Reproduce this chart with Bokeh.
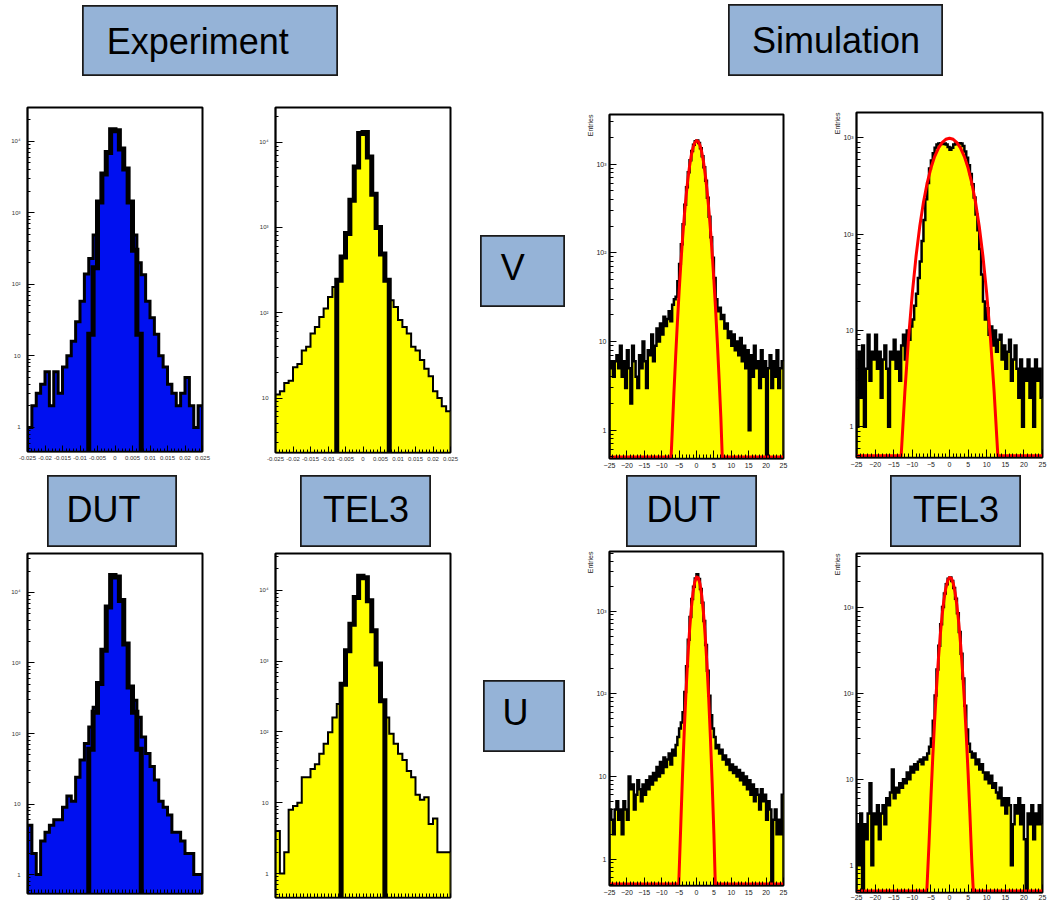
import numpy as np
from bokeh.plotting import figure
from bokeh.layouts import row, column
from bokeh.models import Range1d, FixedTicker, Title, Spacer
from bokeh.core.properties import value
from bokeh.embed import file_html
from bokeh.resources import INLINE

FONT = "Liberation Sans"
BOX_COLOR = "#95B3D7"
BLUE = "#0010f0"
YELLOW = "#ffff00"
RED = "#ff0000"

# ---------------- label texts ----------------
header_labels = ["Experiment", "Simulation"]
plane_labels = ["V", "U"]
detector_labels = ["DUT", "TEL3"]
y_title = "Entries"

# ---------------- experiment histograms (residuals) ----------------
exp_x_range = (-0.025, 0.025)
exp_bin_width = 0.00125
exp_xticks = [-0.025, -0.02, -0.015, -0.01, -0.005, 0, 0.005, 0.01, 0.015, 0.02, 0.025]
exp_xtick_labels = ["-0.025", "-0.02", "-0.015", "-0.01", "-0.005", "0",
                    "0.005", "0.01", "0.015", "0.02", "0.025"]

exp_v_dut_counts = [1, 2, 3, 4, 6, 2, 6, 3, 7, 10, 16, 30, 58, 140, 230, 490, 1420, 3500, 7000, 14500,
                    14000, 7800, 4100, 1420, 490, 200, 136, 58, 34, 20, 10, 7, 4, 3, 2, 3, 5, 2, 1, 2]
exp_v_dut_core_first_bin = 14
exp_v_dut_core_counts = [20, 170, 1420, 3500, 7000, 14500, 14000, 7800, 4100, 1420, 300, 20]

exp_v_tel3_counts = [11, 12, 15, 16, 23, 25, 36, 40, 57, 68, 89, 112, 153, 200, 240, 450, 850, 2080, 5100, 12600,
                     13000, 6700, 2450, 1000, 490, 240, 140, 117, 82, 68, 57, 40, 36, 28, 22, 18, 12, 10, 8, 7]
exp_v_tel3_core_first_bin = 14
exp_v_tel3_core_counts = [240, 450, 850, 2080, 5100, 12600, 13000, 6700, 2450, 1000, 490, 240]

exp_u_dut_counts = [5, 2, 1, 3, 4, 5, 6, 6, 9, 13, 11, 24, 42, 72, 124, 236, 510, 1510, 6200, 17400,
                    16500, 7700, 1860, 455, 295, 170, 89, 52, 34, 22, 11, 9, 7, 4, 4, 3, 2, 2, 1, 1]
exp_u_dut_core_first_bin = 14
exp_u_dut_core_counts = [60, 200, 510, 1510, 6200, 17400, 16500, 7700, 1860, 455, 200, 60]

exp_u_tel3_counts = [4, 1, 2, 8, 9, 10, 23, 23, 30, 35, 49, 68, 99, 160, 248, 470, 1400, 3300, 7900, 15800,
                     15000, 7100, 2680, 910, 275, 160, 94, 68, 49, 40, 28, 23, 13, 11, 12, 5, 6, 2, 2, 2]
exp_u_tel3_core_first_bin = 15
exp_u_tel3_core_counts = [470, 1400, 3300, 7900, 15800, 15000, 7100, 2680, 910, 275]

# ---------------- simulation histograms ----------------
sim_x_range = (-25, 25)
sim_bin_width = 0.5
sim_xticks = [-25, -20, -15, -10, -5, 0, 5, 10, 15, 20, 25]

sim_v_dut_counts = [5, 6, 4, 6, 7, 5, 9, 4, 6, 3,
                    8, 5, 2, 9, 6, 4, 3, 7, 5, 10,
                    6, 3, 8, 7, 12, 6, 9, 14, 10, 16,
                    12, 19, 15, 18, 22, 17, 26, 30, 32, 48,
                    75, 125, 210, 350, 550, 810, 1110, 1410, 1660, 1820,
                    1850, 1740, 1520, 1230, 925, 650, 420, 255, 150, 88,
                    52, 30, 22, 24, 18, 20, 14, 16, 11, 13,
                    9, 12, 8, 10, 7, 11, 6, 9, 5, 8,
                    1, 7, 4, 9, 5, 6, 3, 8, 4, 6,
                    0, 5, 7, 3, 6, 4, 8, 3, 5, 6]
sim_v_dut_fit_x = [-25, -7.3, -7, -6.5, -6, -5.5, -5, -4.5, -4, -3.5, -3, -2.5, -2, -1.5, -1, -0.5, 0,
                   0.5, 1, 1.5, 2, 2.5, 3, 3.5, 4, 4.5, 5, 5.5, 6, 6.5, 7, 7.4, 25]
sim_v_dut_fit_y = [0.5, 0.5, 0.91, 2.57, 6.7, 16.2, 36.4, 75.7, 146, 261, 433, 666, 950, 1257, 1541, 1752, 1847,
                   1806, 1637, 1376, 1072, 775, 519, 323, 186, 99.3, 49.2, 22.6, 9.6, 3.8, 1.39, 0.5, 0.5]

sim_v_tel3_counts = [1, 6, 2, 7, 1, 4, 9, 3, 6, 5,
                     9, 4, 6, 2, 5, 7, 4, 1, 6, 5,
                     8, 4, 6, 3, 7, 9, 5, 10, 8, 11,
                     13, 18, 24, 35, 52, 85, 140, 230, 340, 480,
                     580, 690, 790, 850, 870, 880, 860, 870, 850, 800,
                     750, 790, 850, 870, 860, 880, 870, 820, 720, 620,
                     520, 420, 330, 240, 160, 110, 70, 38, 20, 13,
                     17, 9, 11, 7, 10, 6, 8, 9, 5, 7,
                     4, 6, 8, 3, 5, 7, 4, 2, 5, 1,
                     4, 3, 5, 2, 4, 1, 5, 3, 4, 2]
sim_v_tel3_fit_x = [-25, -13, -12, -11, -10, -9, -8, -7, -6, -5, -4, -3, -2, -1, 0,
                    1, 2, 3, 4, 5, 6, 7, 8, 9, 10, 11, 12, 13, 25]
sim_v_tel3_fit_y = [0.5, 0.5, 2.3, 8.4, 24.3, 58.5, 120, 214, 339, 485, 637, 778, 892, 965, 990,
                    965, 892, 778, 637, 485, 339, 214, 120, 58.5, 24.3, 8.4, 2.3, 0.5, 0.5]

sim_u_dut_counts = [4, 3, 2, 4, 5, 3, 4, 2, 5, 4,
                    3, 10, 7, 8, 4, 6, 9, 7, 5, 8,
                    6, 9, 7, 10, 8, 11, 9, 13, 10, 15,
                    11, 17, 13, 16, 19, 14, 21, 18, 24, 30,
                    38, 45, 60, 105, 215, 450, 850, 1400, 1980, 2480,
                    2800, 2450, 1860, 1260, 760, 390, 190, 95, 55, 38,
                    30, 22, 24, 19, 21, 16, 18, 14, 16, 12,
                    14, 11, 13, 10, 12, 9, 11, 8, 10, 7,
                    9, 6, 8, 5, 7, 6, 4, 7, 5, 6,
                    3, 5, 4, 0, 3, 4, 2, 3, 2, 6]
sim_u_dut_fit_x = [-25, -5.1, -4.5, -4, -3.5, -3, -2.5, -2, -1.5, -1, -0.5, 0,
                   0.5, 1, 1.5, 2, 2.5, 3, 3.5, 4, 4.5, 5, 5.4, 25]
sim_u_dut_fit_y = [0.5, 0.5, 2.73, 10.9, 37.2, 109, 272, 582, 1067, 1675, 2250, 2588,
                   2548, 2147, 1549, 958, 506, 229, 88.8, 29.5, 8.4, 2.03, 0.5, 0.5]

sim_u_tel3_counts = [3, 1, 4, 0, 3, 2, 4, 9, 1, 4,
                     3, 5, 2, 4, 5, 3, 6, 5, 7, 13,
                     6, 8, 7, 9, 8, 10, 9, 12, 10, 14,
                     12, 15, 13, 16, 17, 15, 18, 17, 20, 24,
                     30, 48, 95, 190, 360, 640, 1020, 1460, 1880, 2180,
                     2250, 2050, 1700, 1270, 860, 520, 290, 150, 72, 38,
                     26, 21, 18, 20, 15, 17, 13, 15, 12, 10,
                     12, 9, 11, 8, 9, 7, 6, 8, 5, 6,
                     4, 6, 5, 1, 3, 5, 4, 6, 3, 5,
                     2, 0, 4, 3, 5, 2, 4, 3, 5, 3]
sim_u_tel3_fit_x = [-25, -6.1, -5.5, -5, -4.5, -4, -3.5, -3, -2.5, -2, -1.5, -1, -0.5, 0,
                    0.5, 1, 1.5, 2, 2.5, 3, 3.5, 4, 4.5, 5, 5.5, 6, 6.4, 25]
sim_u_tel3_fit_y = [0.5, 0.5, 1.81, 6.04, 18.1, 48.2, 115, 246, 471, 805, 1231, 1682, 2057, 2249,
                    2199, 1923, 1504, 1052, 658, 368, 184, 82.4, 33, 11.8, 3.8, 1.08, 0.5, 0.5]

log_tick_labels = {1: "1", 10: "10", 100: "10²", 1000: "10³", 10000: "10⁴"}


# ---------------- helpers ----------------
def outline(edges, counts, floor):
    c = np.maximum(np.asarray(counts, dtype=float), floor)
    xs = np.repeat(np.asarray(edges, dtype=float), 2)
    ys = np.concatenate([[floor], np.repeat(c, 2), [floor]])
    return xs, ys


def log_ticker(lo, hi, yr):
    majors = [10.0 ** k for k in range(lo, hi + 1)
              if 10.0 ** k in log_tick_labels and yr[0] <= 10.0 ** k <= yr[1]]
    minors = [m * 10.0 ** k for k in range(lo - 1, hi + 1) for m in range(2, 10)]
    return FixedTicker(ticks=majors, minor_ticks=minors)


def base_panel(w, h, borders, xr, yr):
    l, r, t, b = borders
    p = figure(width=w, height=h, x_range=Range1d(*xr), y_range=Range1d(*yr),
               y_axis_type="log", toolbar_location=None, output_backend="svg",
               min_border_left=l, min_border_right=r, min_border_top=t, min_border_bottom=b)
    p.grid.visible = False
    p.outline_line_color = "black"
    p.outline_line_width = 2
    p.background_fill_color = "white"
    p.border_fill_color = "white"
    for ax in (p.xaxis[0], p.yaxis[0]):
        ax.axis_line_color = "black"
        ax.axis_line_width = 1.5
        ax.major_tick_line_color = "black"
        ax.minor_tick_line_color = "black"
        ax.major_tick_out = 0
        ax.minor_tick_out = 0
        ax.major_label_text_font = FONT
        ax.major_label_text_font_style = "normal"
    p.yaxis[0].major_label_overrides = {float(k): v for k, v in log_tick_labels.items()}
    p.yaxis[0].ticker = log_ticker(0, 4, yr)
    return p


def exp_panel(w, h, borders, yr, counts, core_first, core_counts, fill, outer_lw, show_xlabels=True):
    p = base_panel(w, h, borders, exp_x_range, yr)
    xa, ya = p.xaxis[0], p.yaxis[0]
    minors = [i * 0.001 for i in range(-25, 26)]
    if show_xlabels:
        xa.ticker = FixedTicker(ticks=exp_xticks, minor_ticks=minors)
        xa.major_label_overrides = {float(t): s for t, s in zip(exp_xticks, exp_xtick_labels)}
        xa.major_label_text_font_size = "6px"
        xa.major_label_standoff = 4
        xa.major_label_text_color = "#333333"
        xa.major_tick_in, xa.minor_tick_in = 6, 3
    else:
        # the tick labels of the lower panels lie below the picture's edge
        xa.ticker = FixedTicker(ticks=[], minor_ticks=minors)
        xa.minor_tick_in = 4
    ya.major_tick_in, ya.minor_tick_in = 7, 3
    ya.major_label_text_font_size = "6px"
    ya.major_label_text_color = "#333333"
    ya.major_label_standoff = 7
    floor = yr[0]
    n = len(counts)
    edges = exp_x_range[0] + exp_bin_width * np.arange(n + 1)
    xs, ys = outline(edges, counts, floor)
    p.patch(xs, ys, fill_color=fill, line_color=None)
    p.line(xs, ys, line_color="black", line_width=outer_lw, line_join="miter")
    cedges = exp_x_range[0] + exp_bin_width * (core_first + np.arange(len(core_counts) + 1))
    cx, cy = outline(cedges, core_counts, floor)
    p.line(cx, cy, line_color="black", line_width=5, line_join="miter")
    return p


def sim_panel(w, h, borders, yr, counts, fit_x, fit_y, label_standoff=4):
    p = base_panel(w, h, borders, sim_x_range, yr)
    xa, ya = p.xaxis[0], p.yaxis[0]
    xa.ticker = FixedTicker(ticks=sim_xticks, minor_ticks=list(range(-25, 26)))
    xa.major_tick_in, xa.minor_tick_in = 8, 4
    ya.major_tick_in, ya.minor_tick_in = 7, 4
    xa.major_label_text_font_size = "7px"
    ya.major_label_text_font_size = "7px"
    xa.major_label_text_color = "#222222"
    ya.major_label_text_color = "#222222"
    xa.major_label_standoff = label_standoff
    ya.major_label_standoff = 3
    floor = yr[0]
    n = len(counts)
    edges = sim_x_range[0] + sim_bin_width * np.arange(n + 1)
    xs, ys = outline(edges, counts, floor)
    p.patch(xs, ys, fill_color=YELLOW, line_color=None)
    p.line(xs, ys, line_color="black", line_width=2.5, line_join="miter")
    p.line(fit_x, fit_y, line_color=RED, line_width=3, line_join="round")
    p.add_layout(Title(text=y_title, align="right", text_font=FONT, text_font_size="7px",
                       text_font_style="normal", text_color="#222222", standoff=0, offset=0), "left")
    return p


def label_box(text, w, h, tx=0.5, ty=0.5):
    b = figure(width=w, height=h, x_range=Range1d(0, 1), y_range=Range1d(0, 1),
               toolbar_location=None, output_backend="svg", min_border=0,
               x_axis_location=None, y_axis_location=None)
    b.grid.visible = False
    b.background_fill_color = BOX_COLOR
    b.border_fill_color = BOX_COLOR
    b.outline_line_color = "#1a1a1a"
    b.outline_line_width = 2.5
    b.text(x=[tx], y=[ty], text=[text], text_font=value(FONT), text_font_size="36px",
           text_align="center", text_baseline="middle", text_color="black")
    return b


# ---------------- header ----------------
header = row(
    Spacer(width=82, height=100),
    column(Spacer(width=256, height=5), label_box(header_labels[0], 256, 71, tx=0.45), Spacer(width=256, height=24)),
    Spacer(width=390, height=100),
    column(Spacer(width=215, height=4), label_box(header_labels[1], 215, 72), Spacer(width=215, height=24)),
    Spacer(width=106, height=100),
)

# ---------------- experiment columns ----------------
colA = column(
    exp_panel(235, 375, (27, 33, 7, 24), (0.46, 29700), exp_v_dut_counts,
              exp_v_dut_core_first_bin, exp_v_dut_core_counts, BLUE, 3),
    row(Spacer(width=47, height=72), label_box(detector_labels[0], 130, 72, tx=0.43, ty=0.53), Spacer(width=58, height=72)),
    exp_panel(235, 357, (27, 33, 6, 11), (0.54, 35600), exp_u_dut_counts,
              exp_u_dut_core_first_bin, exp_u_dut_core_counts, BLUE, 3, show_xlabels=False),
)
colB = column(
    exp_panel(235, 375, (40, 20, 7, 23), (2.3, 25500), exp_v_tel3_counts,
              exp_v_tel3_core_first_bin, exp_v_tel3_core_counts, YELLOW, 2),
    row(Spacer(width=65, height=72), label_box(detector_labels[1], 131, 72, ty=0.53), Spacer(width=39, height=72)),
    exp_panel(235, 357, (40, 20, 6, 7), (0.46, 33000), exp_u_tel3_counts,
              exp_u_tel3_core_first_bin, exp_u_tel3_core_counts, YELLOW, 2, show_xlabels=False),
)

# ---------------- plane labels ----------------
colC = column(
    Spacer(width=110, height=135),
    row(Spacer(width=10, height=72), label_box(plane_labels[0], 85, 72, tx=0.38, ty=0.55), Spacer(width=15, height=72)),
    Spacer(width=110, height=373),
    row(Spacer(width=13, height=72), label_box(plane_labels[1], 82, 72, tx=0.39, ty=0.55), Spacer(width=15, height=72)),
    Spacer(width=110, height=152),
)

# ---------------- simulation columns ----------------
colD = column(
    sim_panel(240, 375, (29, 37, 14, 17), (0.48, 3640), sim_v_dut_counts, sim_v_dut_fit_x, sim_v_dut_fit_y),
    row(Spacer(width=46, height=72), label_box(detector_labels[0], 131, 72, tx=0.435, ty=0.53), Spacer(width=63, height=72)),
    sim_panel(240, 357, (23, 37, 4, 19), (0.48, 5270), sim_u_dut_counts, sim_u_dut_fit_x, sim_u_dut_fit_y),
)
colE = column(
    sim_panel(229, 375, (36, 5, 12, 18), (0.48, 1830), sim_v_tel3_counts, sim_v_tel3_fit_x, sim_v_tel3_fit_y),
    row(Spacer(width=70, height=72), label_box(detector_labels[1], 131, 72, ty=0.53), Spacer(width=28, height=72)),
    sim_panel(229, 357, (36, 7, 6, 12), (0.48, 4280), sim_u_tel3_counts, sim_u_tel3_fit_x, sim_u_tel3_fit_y,
              label_standoff=2),
)

layout = column(header, row(colA, colB, colC, colD, colE))

with open("out.html", "w") as f:
    f.write(file_html(layout, INLINE))
